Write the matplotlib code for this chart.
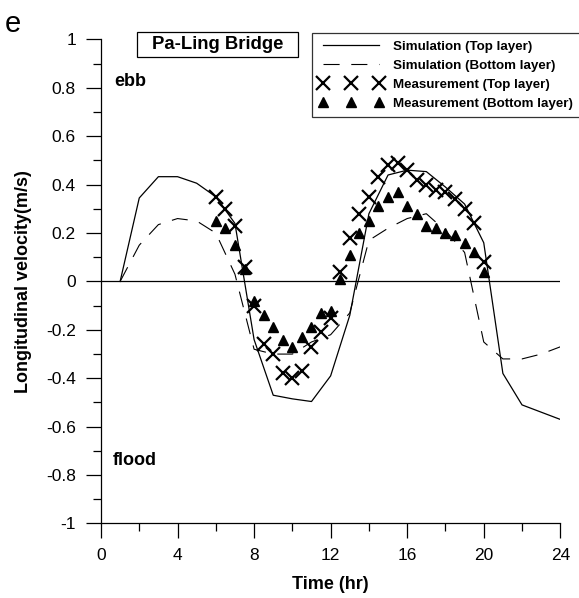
import matplotlib
matplotlib.use("Agg")
import matplotlib.pyplot as plt
from matplotlib.patches import Rectangle
from matplotlib.ticker import MultipleLocator, FuncFormatter

plt.rcParams["font.family"] = ["Liberation Sans", "DejaVu Sans"]

# ─────────────────────────────────────────────────────────────
# Model output (hourly) and field measurements (half-hourly)
# ─────────────────────────────────────────────────────────────
sim_hours = [1, 2, 3, 4, 5, 6, 7, 8, 9, 10, 11, 12,
             13, 14, 15, 16, 17, 18, 19, 20, 21, 22, 23, 24]
sim_top = [0.0, 0.345, 0.433, 0.433, 0.406, 0.35, 0.24, -0.24, -0.47, -0.485, -0.496, -0.39,
           -0.14, 0.28, 0.44, 0.46, 0.454, 0.39, 0.32, 0.16, -0.38, -0.51, -0.54, -0.57]
sim_bottom = [0.0, 0.15, 0.235, 0.26, 0.25, 0.20, 0.03, -0.28, -0.30, -0.30, -0.25, -0.22,
              -0.13, 0.17, 0.22, 0.26, 0.28, 0.21, 0.12, -0.25, -0.32, -0.32, -0.30, -0.27]

meas_hours = [6, 6.5, 7, 7.5, 8, 8.5, 9, 9.5, 10, 10.5, 11, 11.5, 12, 12.5, 13,
              13.5, 14, 14.5, 15, 15.5, 16, 16.5, 17, 17.5, 18, 18.5, 19, 19.5, 20]
meas_top = [0.35, 0.30, 0.23, 0.06, -0.10, -0.26, -0.30, -0.38, -0.40, -0.37, -0.27, -0.21,
            -0.15, 0.04, 0.18, 0.28, 0.35, 0.43, 0.48, 0.49, 0.46, 0.42, 0.40, 0.38, 0.37,
            0.34, 0.30, 0.24, 0.08]
meas_bottom = [0.25, 0.22, 0.15, 0.05, -0.08, -0.14, -0.19, -0.24, -0.27, -0.23, -0.19, -0.13,
               -0.12, 0.01, 0.11, 0.20, 0.25, 0.31, 0.35, 0.37, 0.31, 0.28, 0.23, 0.22, 0.20,
               0.19, 0.16, 0.12, 0.04]

x_ticks = [0, 4, 8, 12, 16, 20, 24]

# ─────────────────────────────────────────────────────────────
# Figure and axes
# ─────────────────────────────────────────────────────────────
fig = plt.figure(figsize=(5.79, 5.98), dpi=100)
ax = fig.add_axes([0.1744, 0.1246, 0.7933, 0.8094])

dash = (0, (14.5, 10.5))
ax.plot(sim_hours, sim_top, color="black", linewidth=0.9, label="Simulation (Top layer)")
ax.plot(sim_hours, sim_bottom, color="black", linewidth=0.8, linestyle=dash,
        label="Simulation (Bottom layer)")
ax.plot(meas_hours, meas_top, linestyle="none", marker="x", markersize=9.5,
        markeredgewidth=1.6, color="black", label="Measurement (Top layer)")
ax.plot(meas_hours, meas_bottom, linestyle="none", marker="^", markersize=7.5,
        color="black", label="Measurement (Bottom layer)")

# zero reference line
ax.plot([0, 24], [0, 0], color="black", linewidth=0.9)

ax.set_xlim(0, 24)
ax.set_ylim(-1, 1)
ax.set_xticks(x_ticks)
ax.xaxis.set_minor_locator(MultipleLocator(2))
ax.yaxis.set_major_locator(MultipleLocator(0.2))
ax.yaxis.set_minor_locator(MultipleLocator(0.1))
ax.yaxis.set_major_formatter(FuncFormatter(lambda v, pos: f"{round(v, 1):g}"))
ax.tick_params(which="major", direction="out", length=11, width=0.9, labelsize=12.5,
               pad=7, colors="black")
ax.tick_params(which="minor", direction="out", length=6, width=0.9)

for side in ["top", "right"]:
    ax.spines[side].set_visible(False)
for side in ["left", "bottom"]:
    ax.spines[side].set_linewidth(0.9)

ax.set_xlabel("Time (hr)", fontsize=13, fontweight="bold", labelpad=9)
ax.set_ylabel("Longitudinal velocity(m/s)", fontsize=13, fontweight="bold", labelpad=10)

# ─────────────────────────────────────────────────────────────
# Annotations and legend
# ─────────────────────────────────────────────────────────────
ax.text(0.7, 0.825, "ebb", fontsize=13, fontweight="bold", va="center", ha="left")
ax.text(0.6, -0.74, "flood", fontsize=13, fontweight="bold", va="center", ha="left")

fig.patches.append(Rectangle((0.2366, 0.9047), 0.278, 0.0418, transform=fig.transFigure,
                             facecolor="white", edgecolor="black", linewidth=0.9))
fig.text(0.3756, 0.9256, "Pa-Ling Bridge", fontsize=13.3, fontweight="bold",
         ha="center", va="center")
fig.text(0.008, 0.946, "e", fontsize=21)

leg = ax.legend(loc="upper left", bbox_to_anchor=(312 / 579, 1 - 33 / 598),
                bbox_transform=fig.transFigure, borderaxespad=0, frameon=True,
                fancybox=False, edgecolor="black", numpoints=3, handlelength=4.8,
                handletextpad=0.7, labelspacing=0.5, borderpad=0.55,
                prop={"weight": "bold", "size": 9.6})
leg.get_frame().set_linewidth(0.9)

fig.savefig("out.png", dpi=100)
